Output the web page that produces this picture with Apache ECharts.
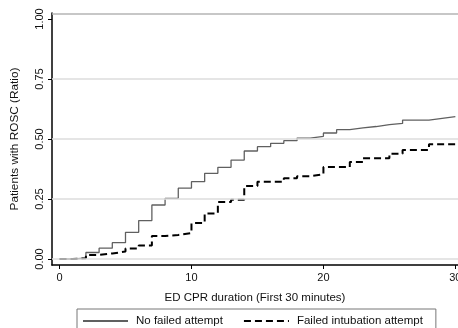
<!DOCTYPE html>
<html>
<head>
<meta charset="utf-8">
<script src="https://cdn.jsdelivr.net/npm/echarts@6/dist/echarts.min.js"></script>
<style>
html,body{margin:0;padding:0;background:#fff;}
#chart{width:458px;height:328px;}
</style>
</head>
<body>
<div id="chart"></div>
<script>
// ED CPR duration (minutes)
const minutes = [0,1,2,3,4,5,6,7,8,9,10,11,12,13,14,15,16,17,18,19,20,21,22,23,24,25,26,27,28,29,30];
// Cumulative ratio of patients with ROSC
const noFailedAttempt = [0,0.004,0.027,0.045,0.068,0.111,0.160,0.225,0.253,0.295,0.322,0.357,0.382,0.412,0.450,0.468,0.482,0.493,0.504,0.511,0.525,0.539,0.546,0.552,0.560,0.565,0.579,0.579,0.586,0.593,0.593];
const failedIntubation = [0,0.003,0.017,0.023,0.031,0.044,0.056,0.096,0.100,0.108,0.150,0.190,0.237,0.247,0.304,0.322,0.322,0.336,0.345,0.353,0.383,0.383,0.404,0.420,0.420,0.439,0.454,0.454,0.478,0.478,0.478];
const seriesNames = ['No failed attempt', 'Failed intubation attempt'];
const xTicks = [0, 10, 20, 30];
const yTicks = [0, 0.25, 0.5, 0.75, 1];
const yGridLines = [0, 0.25, 0.5, 0.75];

const FONT = '"Liberation Sans", Arial, Helvetica, sans-serif';
const chart = echarts.init(document.getElementById('chart'), null, {renderer: 'canvas'});

chart.setOption({
  animation: false,
  backgroundColor: '#fff',
  textStyle: {fontFamily: FONT},
  grid: {left: 52, right: 0, top: 13, bottom: 63, containLabel: false, outerBoundsMode: 'none'},
  xAxis: {
    type: 'value',
    min: -0.57, max: 30.2,
    name: 'ED CPR duration (First 30 minutes)',
    nameLocation: 'middle',
    nameGap: 27,
    nameTextStyle: {fontSize: 11.5, color: '#111', fontFamily: FONT},
    axisLine: {show: true, onZero: false, lineStyle: {color: '#000', width: 1.6}},
    axisTick: {show: true, customValues: xTicks, length: 4, lineStyle: {color: '#000', width: 1}},
    axisLabel: {customValues: xTicks, margin: 7, fontSize: 11, color: '#111', fontFamily: FONT,
      formatter: v => String(v)},
    splitLine: {show: false}
  },
  yAxis: {
    type: 'value',
    min: -0.025, max: 1.025,
    name: 'Patients with ROSC (Ratio)',
    nameLocation: 'middle',
    nameGap: 31,
    nameTextStyle: {fontSize: 11.8, color: '#111', fontFamily: FONT},
    axisLine: {show: true, onZero: false, lineStyle: {color: '#000', width: 1.5}},
    axisTick: {show: true, customValues: yTicks, length: 4, lineStyle: {color: '#000', width: 1}},
    axisLabel: {customValues: yTicks, rotate: 90, margin: 7, fontSize: 11, color: '#111', fontFamily: FONT,
      formatter: v => v.toFixed(2)},
    splitLine: {show: false}
  },
  legend: {
    data: seriesNames,
    left: 77, top: 309,
    orient: 'horizontal',
    itemWidth: 45, itemHeight: 12, itemGap: 20,
    padding: [6, 13, 6, 5],
    borderColor: '#777', borderWidth: 1,
    itemStyle: {opacity: 0},
    textStyle: {fontSize: 11.5, color: '#111', fontFamily: FONT, padding: [0, 0, 0, 3]}
  },
  series: [
    {
      name: 'grid',
      type: 'line',
      data: [],
      silent: true,
      z: 1,
      markLine: {
        silent: true,
        symbol: ['none', 'none'],
        label: {show: false},
        animation: false,
        lineStyle: {color: '#dcdcdc', width: 1.5, type: 'solid'},
        data: yGridLines.map(v => ({yAxis: v})).concat([{yAxis: 1.025, lineStyle: {color: '#b4b4b4', width: 1.5, type: 'solid'}}])
      }
    },
    {
      name: seriesNames[0],
      type: 'line',
      step: 'end',
      symbol: 'none',
      z: 3,
      lineStyle: {color: '#606060', width: 1.3},
      itemStyle: {color: '#606060'},
      data: minutes.map((m, i) => [m, noFailedAttempt[i]])
    },
    {
      name: seriesNames[1],
      type: 'line',
      step: 'end',
      symbol: 'none',
      z: 4,
      lineStyle: {color: '#000', width: 2, type: [7, 4]},
      itemStyle: {color: '#000'},
      data: minutes.map((m, i) => [m, failedIntubation[i]])
    }
  ]
});
</script>
</body>
</html>
